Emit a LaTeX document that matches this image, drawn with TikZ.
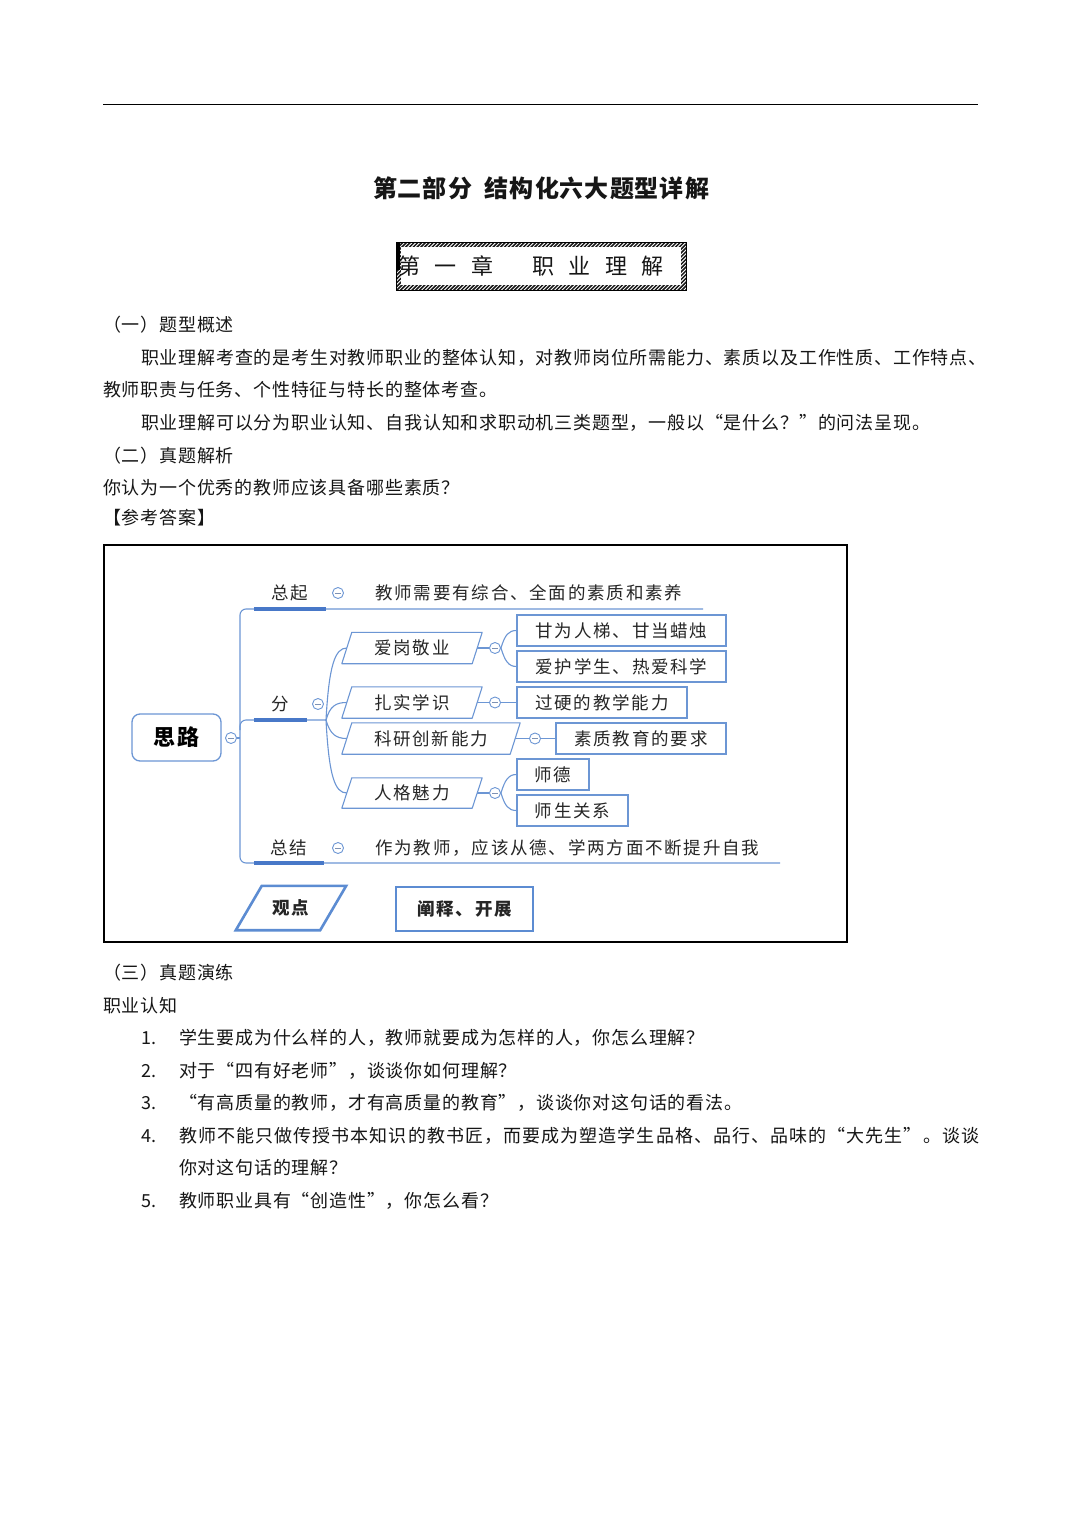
\documentclass[tikz,border=0pt]{standalone}
\usepackage{fontspec}
\setmainfont{Noto Sans CJK SC}
\definecolor{mmline}{RGB}{108,150,212}
\definecolor{mmbar}{RGB}{72,120,200}
\definecolor{mmthickc}{RGB}{92,140,210}
\definecolor{mmtext}{RGB}{38,38,38}
\definecolor{bodytext}{RGB}{22,22,22}
\definecolor{minusc}{RGB}{125,145,180}

\newdimen\mysp
\def\mytxt#1{\mytxtfirst#1\relax}
\def\mytxtfirst#1{#1\mytxtloop}
\def\mytxtloop#1{\ifx#1\relax\else\hskip\mysp plus 2pt\relax#1\expandafter\mytxtloop\fi}
\def\setsp#1{\global\mysp=#1\relax}

\tikzset{
  bodytxt/.style={anchor=west, inner sep=0pt, text height=14.9pt, text depth=1.3pt, text=bodytext,
    font=\fontsize{18}{20}\selectfont, execute at begin node={\setsp{0.8pt}}},
  titletxt/.style={inner sep=0pt, text height=19.9pt, text depth=1.7pt, text=bodytext,
    font=\fontsize{24}{28}\selectfont\bfseries, execute at begin node={\setsp{1pt}}},
  chaptxt/.style={anchor=west, inner sep=0pt, text height=18.3pt, text depth=1.5pt, text=bodytext,
    font=\fontsize{22}{24}\selectfont},
  mmtxt/.style={inner sep=0pt, text height=14.5pt, text depth=1.2pt, text=mmtext,
    font=\fontsize{17.5}{19}\selectfont, execute at begin node={\setsp{1.8pt}}},
  mmbold/.style={inner sep=0pt, text height=14.5pt, text depth=1.2pt, text=mmtext,
    font=\fontsize{17.5}{19}\selectfont\bfseries, execute at begin node={\setsp{1.8pt}}},
  mmbox/.style={mmtxt, draw=mmline, line width=1.1pt, minimum height=31pt},
  mmpara/.style={mmtxt, minimum height=31pt},
  mmcirc/.style={circle, draw=mmline, fill=white, line width=0.9pt, minimum size=11pt, inner sep=0pt,
    path picture={\draw[minusc, line width=0.8pt] ([xshift=-2.6pt]path picture bounding box.center) -- ([xshift=2.6pt]path picture bounding box.center);}},
  mmthin/.style={draw=mmline, line width=1.1pt},
  mmbarline/.style={draw=mmbar, line width=3.6pt},
  mmthick/.style={draw=mmthickc, line width=2.6pt},
  hatchline/.style={draw=black!90, line width=1.5pt},
}

\begin{document}
\begin{tikzpicture}[x=1pt, y=-1pt]
\useasboundingbox (0,0) rectangle (1080,1528);
\fill[white] (0,0) rectangle (1080,1528);

% header rule
\draw[black, line width=1pt] (103,104) -- (978,104);

% title
\node[titletxt] (title) at (541,188) {\mytxt{第二部分}\hspace{13pt}\mytxt{结构化六大题型详解}};

% chapter box with hatched border
\begin{scope}
  \clip (396,242) rectangle (686,290);
  \foreach \k in {-14,...,78} {
    \draw[hatchline] ({396+3.8*\k},291) -- ++(50,-50);
  }
\end{scope}
\fill[white] (401,247) rectangle (681,285);
\draw[black, line width=0.8pt] (396,242) rectangle (686,290);
\fill[black] (396,242) rectangle (399.5,270);
\node[chaptxt] (chap) at (398,266) {第\hspace{14.5pt}一\hspace{14.5pt}章\hspace{39pt}职\hspace{14.5pt}业\hspace{14.5pt}理\hspace{14.5pt}解};

% body text
\node[bodytxt] (h1) at (103,325) {\mytxt{（一）题型概述}};
\node[bodytxt] (l1) at (141,358) {\mytxt{职业理解考查的是考生对教师职业的整体认知，对教师岗位所需能力、素质以及工作性质、工作特点、}};
\node[bodytxt] (l2) at (103,390) {\mytxt{教师职责与任务、个性特征与特长的整体考查。}};
\node[bodytxt] (l3) at (141,423) {\mytxt{职业理解可以分为职业认知、自我认知和求职动机三类题型，一般以“是什么？”的问法呈现。}};
\node[bodytxt] (h2) at (103,456) {\mytxt{（二）真题解析}};
\node[bodytxt] (qq) at (103,488) {\mytxt{你认为一个优秀的教师应该具备哪些素质？}};
\node[bodytxt] (ans) at (103,518) {\mytxt{【参考答案】}};

% mind map frame
\draw[black, line width=1.2pt] (104,545) rectangle (847,942);

% root
\node[mmtxt, draw=mmline, line width=1.3pt, rounded corners=8pt, minimum width=89pt, minimum height=47pt,
  text height=18.3pt, text depth=1.5pt, font=\fontsize{22}{24}\selectfont\bfseries, text=black,
  execute at begin node={\setsp{2pt}}] (root) at (176.5,737.5) {\mytxt{思路}};
\node[mmcirc] (croot) at (231,738) {};

% spine
\coordinate (zqend) at (703,609);
\coordinate (spinebot) at (240,863);
\coordinate (zjend) at (780,863);
\coordinate (fenjoin) at (240,730);
\coordinate (fen) at (326,720);
\draw[mmthin, rounded corners=6pt] (zqend) -| (spinebot) -- (zjend);
\draw[mmthin] (croot.east) -- (croot.east -| spinebot);
\draw[mmthin, rounded corners=6pt] (fenjoin) |- (fen);

% level-1 labels
\node[mmtxt, minimum width=72pt, minimum height=32pt] (zq) at (290,593) {\mytxt{总起}};
\node[mmtxt, minimum width=53pt, minimum height=32pt] (fe) at (280.5,704) {分};
\node[mmtxt, minimum width=70pt, minimum height=30pt] (zj) at (289,848) {\mytxt{总结}};
\draw[mmbarline] (zq.south west) -- (zq.south east);
\draw[mmbarline] (fe.south west) -- (fe.south east);
\draw[mmbarline] (zj.south west) -- (zj.south east);
\node[mmcirc] (czq) at (338,593) {};
\node[mmcirc] (cfe) at (318,704) {};
\node[mmcirc] (czj) at (338,848) {};
\node[mmtxt, anchor=west] (zqt) at (375,593) {\mytxt{教师需要有综合、全面的素质和素养}};
\node[mmtxt, anchor=west] (zjt) at (375,848) {\mytxt{作为教师，应该从德、学两方面不断提升自我}};

% level-2 parallelograms
\node[mmpara, minimum width=130pt] (p1) at (412,648) {\mytxt{爱岗敬业}};
\node[mmpara, minimum width=130pt] (p2) at (412,702.5) {\mytxt{扎实学识}};
\node[mmpara, minimum width=168pt] (p3) at (431,738.5) {\mytxt{科研创新能力}};
\node[mmpara, minimum width=130pt, minimum height=30pt] (p4) at (412,793) {\mytxt{人格魅力}};
\foreach \n in {p1,p2,p3,p4}{
  \draw[mmthin, line join=round] ([xshift=5pt]\n.north west) -- ([xshift=5pt]\n.north east)
    -- ([xshift=-5pt]\n.south east) -- ([xshift=-5pt]\n.south west) -- cycle;
}
\draw[mmthin] (fen) .. controls +(3,-54) and +(-12,0) .. (p1.west);
\draw[mmthin] (fen) .. controls +(4,-14) and +(-11,0) .. (p2.west);
\draw[mmthin] (fen) .. controls +(4,14) and +(-11,0) .. (p3.west);
\draw[mmthin] (fen) .. controls +(3,56) and +(-12,0) .. (p4.west);

% level-3 boxes
\node[mmbox, minimum width=209pt] (b1) at (621.5,630.5) {\mytxt{甘为人梯、甘当蜡烛}};
\node[mmbox, minimum width=209pt] (b2) at (621.5,666.5) {\mytxt{爱护学生、热爱科学}};
\node[mmbox, minimum width=170pt] (b3) at (602,702.5) {\mytxt{过硬的教学能力}};
\node[mmbox, minimum width=170pt] (b4) at (641,738.5) {\mytxt{素质教育的要求}};
\node[mmbox, minimum width=72pt] (b5) at (553,774.5) {\mytxt{师德}};
\node[mmbox, minimum width=111pt] (b6) at (572.5,810.5) {\mytxt{师生关系}};

\node[mmcirc] (c1) at (495,648) {};
\node[mmcirc] (c2) at (495,702.5) {};
\node[mmcirc] (c3) at (535,738.5) {};
\node[mmcirc] (c4) at (495,793) {};

\draw[mmthin] (p1.east) -- (c1);
\draw[mmthin] (p2.east) -- (c2);
\draw[mmthin] (p3.east) -- (c3);
\draw[mmthin] (p4.east) -- (c4);
\draw[mmthin] (c1.east) .. controls +(4,-13) and +(-8,0) .. (b1.west);
\draw[mmthin] (c1.east) .. controls +(4,13) and +(-8,0) .. (b2.west);
\draw[mmthin] (c2) -- (b3);
\draw[mmthin] (c3) -- (b4);
\draw[mmthin] (c4.east) .. controls +(4,-13) and +(-8,0) .. (b5.west);
\draw[mmthin] (c4.east) .. controls +(4,13) and +(-8,0) .. (b6.west);

% bottom legend shapes
\node[mmbold, minimum width=84pt, minimum height=44pt] (gd) at (291,908) {\mytxt{观点}};
\draw[mmthick, line join=miter] ([xshift=13pt]gd.north west) -- ([xshift=13pt]gd.north east)
  -- ([xshift=-13pt]gd.south east) -- ([xshift=-13pt]gd.south west) -- cycle;
\node[mmbold, draw=mmthickc, line width=2.6pt, minimum width=137pt, minimum height=44pt] (cs) at (464.5,909) {\mytxt{阐释、开展}};

% section three
\node[bodytxt] (h3) at (103,973) {\mytxt{（三）真题演练}};
\node[bodytxt] (zy) at (103,1006) {\mytxt{职业认知}};
\node[bodytxt] (n1) at (141,1038) {1.};
\node[bodytxt] (n2) at (141,1071) {2.};
\node[bodytxt] (n3) at (141,1103) {3.};
\node[bodytxt] (n4) at (141,1136) {4.};
\node[bodytxt] (n5) at (141,1201) {5.};
\node[bodytxt] (i1) at (179,1038) {\mytxt{学生要成为什么样的人，教师就要成为怎样的人，你怎么理解？}};
\node[bodytxt] (i2) at (179,1071) {\mytxt{对于“四有好老师”，谈谈你如何理解？}};
\node[bodytxt] (i3) at (179,1103) {\mytxt{“有高质量的教师，才有高质量的教育”，谈谈你对这句话的看法。}};
\node[bodytxt] (i4) at (179,1136) {\hbox to 800pt{\mytxt{教师不能只做传授书本知识的教书匠，而要成为塑造学生品格、品行、品味的“大先生”。谈谈}}};
\node[bodytxt] (i4b) at (179,1168) {\mytxt{你对这句话的理解？}};
\node[bodytxt] (i5) at (179,1201) {\mytxt{教师职业具有“创造性”，你怎么看？}};
\end{tikzpicture}
\end{document}
